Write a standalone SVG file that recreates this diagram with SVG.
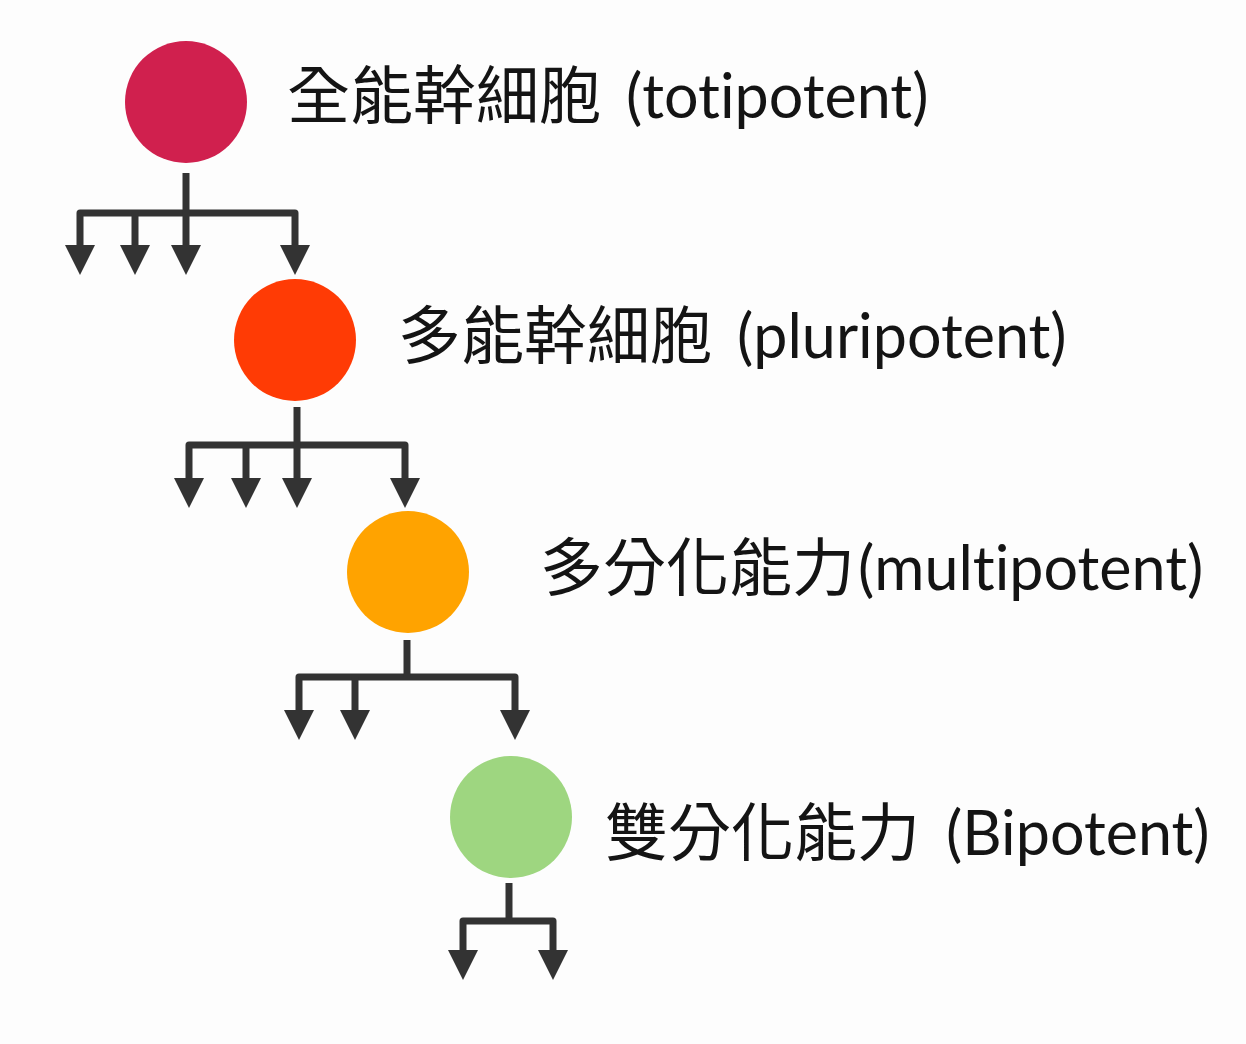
<svg xmlns="http://www.w3.org/2000/svg" width="1246" height="1044" viewBox="0 0 1246 1044">
<style>
.lbl{font-family:"Lato","Noto Sans CJK TC","Noto Sans CJK SC",sans-serif;font-size:61px;fill:#141414;font-variant-ligatures:none}
.cj{font-family:"Noto Sans CJK TC","Noto Sans CJK SC",sans-serif;font-size:63px}
.cn{fill:none;stroke:#333;stroke-width:7;stroke-linejoin:round}
</style>
<defs>
<marker id="ah" viewBox="0 -15 30 30" refX="0" refY="0" markerWidth="30" markerHeight="30" markerUnits="userSpaceOnUse" orient="auto-start-reverse">
<path d="M0,-15 L30,0 L0,15 Z" fill="#333"/>
</marker>
</defs>
<rect width="1246" height="1044" fill="#fdfdfd"/>
<g id="connectors">
<path class="cn" d="M80,245 V213 H295 V245" marker-start="url(#ah)" marker-end="url(#ah)"/>
<path class="cn" d="M135,213 V245" marker-end="url(#ah)"/>
<path class="cn" d="M186,173 V245" marker-end="url(#ah)"/>
<path class="cn" d="M189,478 V445 H405 V478" marker-start="url(#ah)" marker-end="url(#ah)"/>
<path class="cn" d="M246,445 V478" marker-end="url(#ah)"/>
<path class="cn" d="M297,407 V478" marker-end="url(#ah)"/>
<path class="cn" d="M299,710 V677 H515 V710" marker-start="url(#ah)" marker-end="url(#ah)"/>
<path class="cn" d="M355,677 V710" marker-end="url(#ah)"/>
<path class="cn" d="M407,640 V677"/>
<path class="cn" d="M463,950 V921 H553 V950" marker-start="url(#ah)" marker-end="url(#ah)"/>
<path class="cn" d="M509,883 V921"/>
</g>
<g id="totipotent">
<circle cx="186" cy="102" r="61" fill="#d0204e"/>
<text class="lbl" x="287" y="118"><tspan class="cj">全能幹細胞</tspan><tspan dx="24">(totipotent)</tspan></text>
</g>
<g id="pluripotent">
<circle cx="295" cy="340" r="61" fill="#ff3b05"/>
<text class="lbl" x="398" y="358"><tspan class="cj">多能幹細胞</tspan><tspan dx="24">(pluripotent)</tspan></text>
</g>
<g id="multipotent">
<circle cx="408" cy="572" r="61" fill="#ffa300"/>
<text class="lbl" x="540" y="590"><tspan class="cj">多分化能力</tspan><tspan dx="3">(multipotent)</tspan></text>
</g>
<g id="bipotent">
<circle cx="511" cy="817" r="61" fill="#9ed680"/>
<text class="lbl" x="605" y="855"><tspan class="cj">雙分化能力</tspan><tspan dx="26">(Bipotent)</tspan></text>
</g>
</svg>
